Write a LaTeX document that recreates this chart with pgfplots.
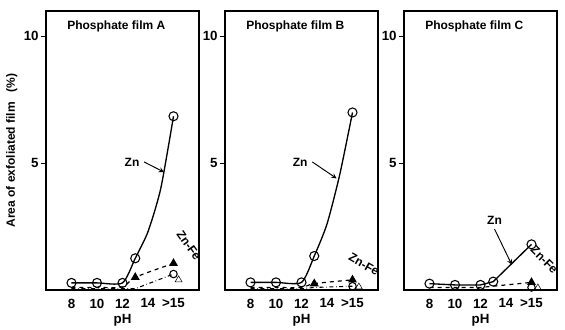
\documentclass[border=0pt]{standalone}
\usepackage{fontspec}
\setmainfont{Liberation Sans}
\usepackage{pgfplots}
\pgfplotsset{compat=1.18}
\begin{document}
\begin{tikzpicture}[x=1pt,y=1pt]
\useasboundingbox (-34.5,-29.25) rectangle (389.25,217.5);
\pgfplotsset{
  panel/.style={scale only axis, width=114.75pt, height=209.25pt,
    xmin=6, xmax=18, ymin=0, ymax=11,
    xtick={8,10,12,14,16}, xticklabels={8,10,12,14,{>15}},
    ytick={5,10}, yticklabels={5,10}, ytick pos=left,
    tick align=outside, major tick length=4pt,
    xtick style={draw=none}, ytick style={black, line width=0.9pt},
    axis line style={line width=1pt},
    tick label style={font=\bfseries},
    xticklabel style={yshift=1pt},
    yticklabel style={xshift=2pt},
    /pgf/number format/assume math mode=true,
    xlabel={pH}, xlabel style={font=\bfseries, yshift=2pt},
    clip=false},
  zn/.style={black, line width=1pt, mark=o, mark size=3.4pt, mark options={solid, fill=white, line width=0.8pt}},
  znfe/.style={black, dashed, line width=0.9pt, mark=triangle*, mark size=3pt, mark options={solid}},
  znfeb/.style={black, dash dot, line width=0.8pt, mark=o, mark size=2.8pt, mark options={solid, fill=white}},
  znfec/.style={black, only marks, mark=triangle, mark size=3pt, mark options={solid, fill=white}},
}
% Panel A
\begin{axis}[panel, at={(0,0)}, anchor=south west,
  ylabel={Area of exfoliated film~~~(\%)}, ylabel style={font=\bfseries\small, yshift=-2pt}]
\addplot[znfeb, mark indices={5}] coordinates {(8,0.05) (10,0.05) (12,0.05) (13,0.05) (16,0.63)};
\addplot[znfe, smooth, tension=0.5, mark indices={4,5}] coordinates {(8,0.1) (10,0.1) (12,0.12) (13,0.5) (16,1.05)};
\addplot[znfec] coordinates {(16.4,0.4)};
\addplot[zn, smooth, tension=0.4, mark indices={1,2,3,4,7}] coordinates {(8,0.28) (10,0.28) (12,0.28) (13,1.25) (14,2.3) (15,4.0) (16,6.85)};
\node[anchor=west, font=\bfseries\small] at (axis cs:7.3,10.4) {Phosphate film A};
\node[font=\bfseries\small] (zA) at (axis cs:12.75,5.05) {Zn};
\draw[-stealth, line width=0.7pt] (zA.east) -- (axis cs:15.25,4.65);
\node[font=\bfseries\small, rotate=-55] at (axis cs:17.2,1.75) {Zn-Fe};
\end{axis}
% Panel B
\begin{axis}[panel, at={(134.25pt,0)}, anchor=south west]
\addplot[znfeb, mark indices={5}] coordinates {(8,0.05) (10,0.05) (12,0.05) (13,0.1) (16,0.15)};
\addplot[znfe, smooth, tension=0.5, mark indices={4,5}] coordinates {(8,0.1) (10,0.1) (12,0.1) (13,0.25) (16,0.4)};
\addplot[znfec] coordinates {(16.5,0.12)};
\addplot[zn, smooth, tension=0.4, mark indices={1,2,3,4,7}] coordinates {(8,0.3) (10,0.3) (12,0.3) (13,1.34) (14,2.6) (15,4.55) (16,7.0)};
\node[anchor=west, font=\bfseries\small] at (axis cs:7.3,10.4) {Phosphate film B};
\node[font=\bfseries\small] (zB) at (axis cs:11.9,5.05) {Zn};
\draw[-stealth, line width=0.7pt] (zB.east) -- (axis cs:14.75,4.4);
\node[font=\bfseries\small, rotate=-30] at (axis cs:16.9,1.0) {Zn-Fe};
\end{axis}
% Panel C
\begin{axis}[panel, at={(268.5pt,0)}, anchor=south west]
\addplot[znfe, mark indices={5}] coordinates {(8,0.1) (10,0.1) (12,0.1) (13,0.15) (16,0.3)};
\addplot[znfeb, only marks] coordinates {(16,0.1)};
\addplot[znfec] coordinates {(16.5,0.08)};
\addplot[zn] coordinates {(8,0.25) (10,0.2) (12,0.2) (13,0.33) (16,1.8)};
\node[anchor=west, font=\bfseries\small] at (axis cs:7.3,10.4) {Phosphate film C};
\node[font=\bfseries\small] (zC) at (axis cs:13.1,2.75) {Zn};
\draw[-stealth, line width=0.7pt] (zC.south) -- (axis cs:14.45,1.0);
\node[font=\bfseries\small, rotate=-45] at (axis cs:17.0,1.2) {Zn-Fe};
\end{axis}
\end{tikzpicture}
\end{document}
